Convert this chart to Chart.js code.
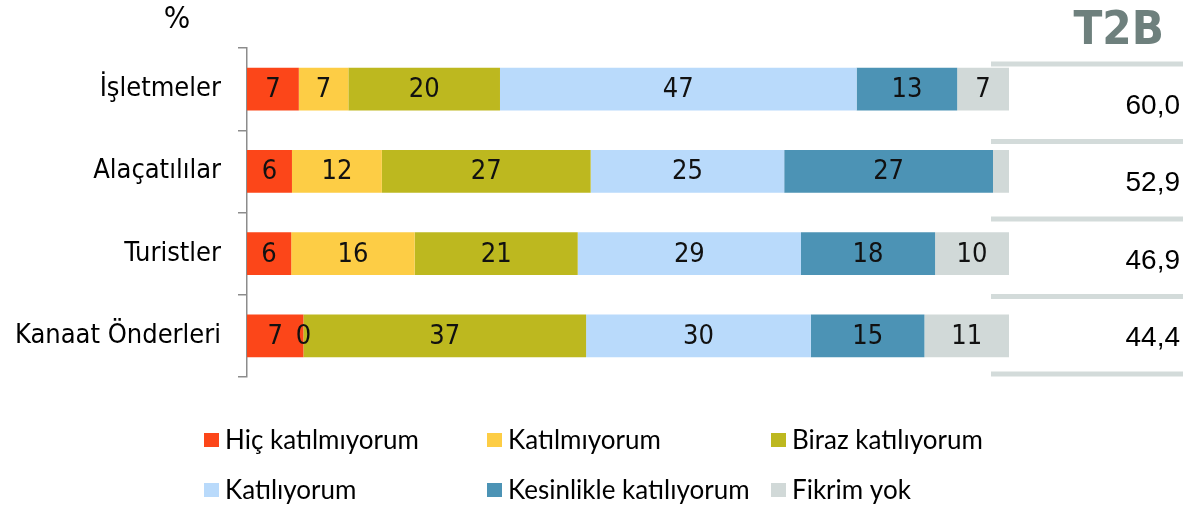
<!DOCTYPE html>
<html>
<head>
<meta charset="utf-8">
<script src="https://cdn.jsdelivr.net/npm/chart.js@4"></script>
<style>
  body { margin: 0; background: #fff; }
  #wrap { width: 1186px; height: 507px; }
</style>
</head>
<body>
<div id="wrap"><canvas id="chart" width="1186" height="507"></canvas></div>
<script>
/* Agreement survey - stacked shares with T2B column */

const categories = ['İşletmeler', 'Alaçatılılar', 'Turistler', 'Kanaat Önderleri'];
const seriesNames = ['Hiç katılmıyorum', 'Katılmıyorum', 'Biraz katılıyorum', 'Katılıyorum', 'Kesinlikle katılıyorum', 'Fikrim yok'];
const seriesColors = ['#fc4619', '#fdcd45', '#bdb81f', '#b9dafb', '#4c93b5', '#d1d9d8'];

// shares per series, in category order (%)
const hicKatilmiyorum = [6.8, 5.9, 5.8, 7.4];
const katilmiyorum = [6.5, 11.8, 16.2, 0];
const birazKatiliyorum = [19.9, 27.4, 21.4, 37.1];
const katiliyorum = [46.8, 25.4, 29.3, 29.5];
const kesinlikleKatiliyorum = [13.2, 27.4, 17.6, 14.9];
const fikrimYok = [6.8, 2.1, 9.7, 11.1];

const t2bValues = [60.0, 52.9, 46.9, 44.4];

const seriesValues = [hicKatilmiyorum, katilmiyorum, birazKatiliyorum, katiliyorum, kesinlikleKatiliyorum, fikrimYok];

const labelFont = 'DejaVu Sans Condensed';

// value labels inside each bar segment
const barLabels = {
  id: 'barLabels',
  afterDatasetsDraw(chart) {
    const ctx = chart.ctx;
    ctx.save();
    ctx.font = '27px "' + labelFont + '"';
    ctx.fillStyle = '#111';
    ctx.textAlign = 'center';
    ctx.textBaseline = 'middle';
    chart.data.datasets.forEach((ds, i) => {
      const meta = chart.getDatasetMeta(i);
      meta.data.forEach((el, j) => {
        const v = ds.data[j];
        if (v > 0 && v < 3) return; // too thin, no label
        const p = el.getProps(['x', 'y', 'base'], true);
        ctx.fillText(String(Math.round(v)), (p.x + p.base) / 2, p.y + 1);
      });
    });
    ctx.restore();
  }
};

// T2B column, % sign and legend
const extras = {
  id: 'extras',
  afterDraw(chart) {
    const ctx = chart.ctx;
    ctx.save();

    ctx.fillStyle = '#000';
    ctx.font = '31px "' + labelFont + '"';
    ctx.textAlign = 'center';
    ctx.textBaseline = 'middle';
    ctx.fillText('%', 177, 20);

    ctx.fillStyle = '#6e807d';
    ctx.font = 'bold 47px "' + labelFont + '"';
    ctx.textAlign = 'right';
    ctx.textBaseline = 'alphabetic';
    ctx.fillText('T2B', 1164, 44);

    const lineTop = 64, lineStep = 77.5;
    ctx.strokeStyle = '#d3dbda';
    ctx.lineWidth = 5;
    for (let i = 0; i <= t2bValues.length; i++) {
      const y = lineTop + i * lineStep;
      ctx.beginPath();
      ctx.moveTo(991, y);
      ctx.lineTo(1183, y);
      ctx.stroke();
    }

    ctx.fillStyle = '#000';
    ctx.font = '28px "Liberation Sans"';
    t2bValues.forEach((v, i) => {
      const mid = lineTop + (i + 0.5) * lineStep;
      ctx.fillText(v.toFixed(1).replace('.', ','), 1180, mid + 11);
    });

    // legend, 3 columns x 2 rows
    const colX = [204, 487, 771];
    const rowY = [440, 490];
    ctx.font = '26px Lato';
    ctx.textAlign = 'left';
    ctx.textBaseline = 'middle';
    chart.data.datasets.forEach((ds, i) => {
      const x = colX[i % 3];
      const y = rowY[Math.floor(i / 3)];
      ctx.fillStyle = ds.backgroundColor;
      ctx.fillRect(x, y - 7, 15, 14);
      ctx.fillStyle = '#000';
      ctx.fillText(ds.label, x + 21, y + 1);
    });

    ctx.restore();
  }
};

new Chart(document.getElementById('chart'), {
  type: 'bar',
  data: {
    labels: categories,
    datasets: seriesNames.map((name, i) => ({
      label: name,
      data: seriesValues[i],
      backgroundColor: seriesColors[i],
      borderWidth: 0,
      barPercentage: 0.52,
      categoryPercentage: 1
    }))
  },
  options: {
    indexAxis: 'y',
    responsive: false,
    animation: false,
    devicePixelRatio: 1,
    layout: { padding: { top: 48, bottom: 130, right: 177, left: 0 } },
    plugins: {
      legend: { display: false },
      tooltip: { enabled: false }
    },
    scales: {
      x: { stacked: true, min: 0, max: 100, display: false },
      y: {
        stacked: true,
        grid: { offset: true, drawOnChartArea: false, drawTicks: true, tickLength: 9, color: '#8c8c8c', lineWidth: 1.5 },
        border: { display: true, color: '#8c8c8c', width: 1.5 },
        ticks: { color: '#000', font: { family: labelFont, size: 27 }, padding: 17 },
        afterFit(scale) { scale.width = 247; }
      }
    }
  },
  plugins: [barLabels, extras]
});
</script>
</body>
</html>
